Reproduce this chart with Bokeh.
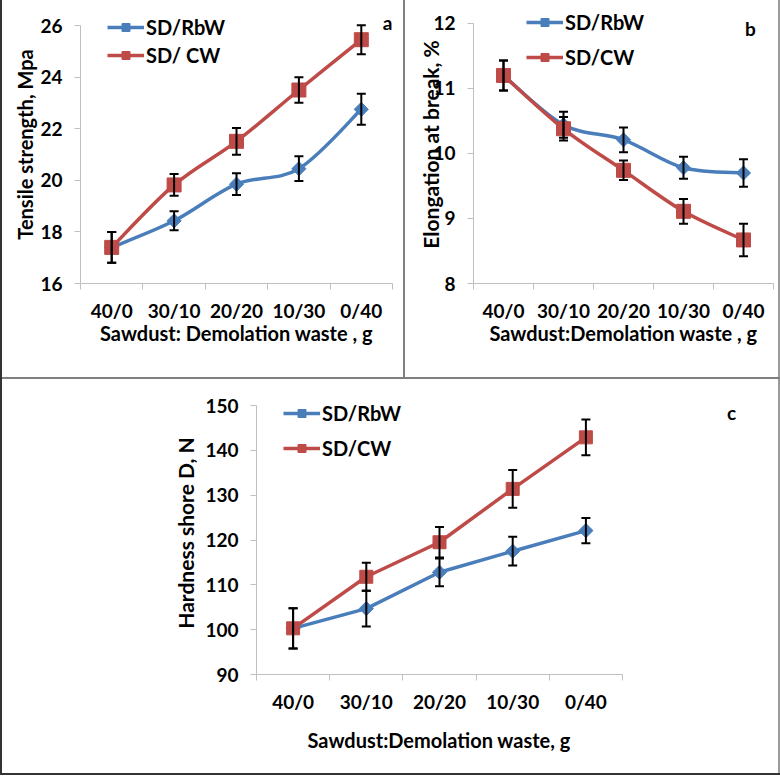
import math
from bokeh.plotting import figure
from bokeh.models import (Range1d, FixedTicker, Whisker, TeeHead, ColumnDataSource,
                          Legend, LegendItem, Label, Div, Title)
from bokeh.layouts import row, column
from bokeh.embed import file_html
from bokeh.resources import INLINE

# ---------------- data ----------------
categories = ["40/0", "30/10", "20/20", "10/30", "0/40"]

a_rbw = [17.4, 18.43, 19.85, 20.45, 22.75]
a_rbw_err = [0.6, 0.37, 0.42, 0.48, 0.6]
a_cw = [17.4, 19.82, 21.51, 23.5, 25.45]
a_cw_err = [0.6, 0.42, 0.52, 0.49, 0.56]

b_rbw = [11.2, 10.44, 10.21, 9.78, 9.70]
b_rbw_err = [0.23, 0.2, 0.19, 0.17, 0.21]
b_cw = [11.2, 10.38, 9.74, 9.11, 8.67]
b_cw_err = [0.23, 0.18, 0.15, 0.19, 0.25]

c_rbw = [100.3, 104.7, 112.8, 117.5, 122.1]
c_rbw_err = [4.5, 4.0, 3.1, 3.2, 2.8]
c_cw = [100.3, 111.8, 119.5, 131.4, 142.9]
c_cw_err = [4.5, 3.1, 3.4, 4.2, 4.0]

a_yticks = [16, 18, 20, 22, 24, 26]
b_yticks = [8, 9, 10, 11, 12]
c_yticks = [90, 100, 110, 120, 130, 140, 150]

BLUE = "#4A7EBB"
RED = "#BE4B48"
FONT = "Lato"
AXIS_GRAY = "#BFBFBF"


def bezier_source(xs, ys):
    n = len(xs)
    d = dict(x0=[], y0=[], x1=[], y1=[], cx0=[], cy0=[], cx1=[], cy1=[])
    for i in range(n - 1):
        ip = i - 1 if i > 0 else i
        inn = i + 2 if i + 2 < n else i + 1
        d["x0"].append(xs[i]); d["y0"].append(ys[i])
        d["x1"].append(xs[i + 1]); d["y1"].append(ys[i + 1])
        d["cx0"].append(xs[i] + (xs[i + 1] - xs[ip]) / 6.0)
        d["cy0"].append(ys[i] + (ys[i + 1] - ys[ip]) / 6.0)
        d["cx1"].append(xs[i + 1] - (xs[inn] - xs[i]) / 6.0)
        d["cy1"].append(ys[i + 1] - (ys[inn] - ys[i]) / 6.0)
    return ColumnDataSource(d)


def panel(width, height, borders, ext, yr, yticks, series, ylabel, xlabel,
          legend_loc, legend_spacing, tag, tag_pos, ylabel_standoff,
          xlabel_standoff, smooth, ylab_size, xlab_size, xtitle_offset=None):
    left, right, top, bottom = borders
    ext_top, ext_right = ext
    n = len(categories)
    frame_w = width - left - right
    frame_h = height - top - bottom
    y_end = yr[1] + ext_top * (yr[1] - yr[0]) / frame_h
    x_end = n + ext_right * n / frame_w
    p = figure(width=width, height=height, x_range=Range1d(0, x_end),
               y_range=Range1d(yr[0], y_end), output_backend="svg",
               toolbar_location=None,
               min_border_left=left, min_border_right=right - ext_right,
               min_border_top=top - ext_top, min_border_bottom=bottom)
    p.outline_line_color = None
    p.xgrid.visible = False
    p.ygrid.visible = False
    p.background_fill_color = "white"
    p.border_fill_color = "white"

    xs = [i + 0.5 for i in range(n)]
    xa = p.xaxis[0]
    xa.bounds = (0, n)
    xa.ticker = FixedTicker(ticks=xs, minor_ticks=list(range(n + 1)))
    xa.major_label_overrides = {x: c for x, c in zip(xs, categories)}
    xa.major_tick_out = 5
    xa.major_tick_in = 0
    xa.major_tick_line_color = None
    xa.minor_tick_out = 6
    xa.minor_tick_in = 0
    xa.minor_tick_line_color = AXIS_GRAY
    xa.axis_line_color = AXIS_GRAY
    xa.major_label_standoff = 9
    xa.major_label_text_font = FONT
    xa.major_label_text_font_style = "bold"
    xa.major_label_text_font_size = "19px"
    xa.major_label_text_color = "black"
    if xtitle_offset is None:
        xa.axis_label = xlabel
        xa.axis_label_text_font = FONT
        xa.axis_label_text_font_style = "bold"
        xa.axis_label_text_font_size = xlab_size
        xa.axis_label_text_color = "black"
        xa.axis_label_standoff = xlabel_standoff
    else:
        t = Title(text=xlabel, align="left", offset=xtitle_offset,
                  standoff=xlabel_standoff, vertical_align="top",
                  text_font=FONT, text_font_style="bold",
                  text_font_size=xlab_size, text_color="black")
        p.add_layout(t, "below")

    ya = p.yaxis[0]
    ya.bounds = yr
    ya.ticker = FixedTicker(ticks=yticks)
    ya.major_tick_out = 6
    ya.major_tick_in = 0
    ya.major_tick_line_color = AXIS_GRAY
    ya.minor_tick_line_color = None
    ya.axis_line_color = AXIS_GRAY
    ya.major_label_standoff = 12
    ya.major_label_text_font = FONT
    ya.major_label_text_font_style = "bold"
    ya.major_label_text_font_size = "19px"
    ya.major_label_text_color = "black"
    ya.axis_label = ylabel
    ya.axis_label_text_font = FONT
    ya.axis_label_text_font_style = "bold"
    ya.axis_label_text_font_size = ylab_size
    ya.axis_label_text_color = "black"
    ya.axis_label_standoff = ylabel_standoff

    items = []
    line_rs = []
    for (name, vals, errs, color, marker, msize, angle) in series:
        if smooth:
            lr = p.bezier(x0="x0", y0="y0", x1="x1", y1="y1", cx0="cx0", cy0="cy0",
                          cx1="cx1", cy1="cy1", source=bezier_source(xs, vals),
                          line_color=color, line_width=3.5)
        else:
            lr = p.line(xs, vals, line_color=color, line_width=3.5)
        line_rs.append((name, lr, vals, errs, color, marker, msize, angle))

    for (name, lr, vals, errs, color, marker, msize, angle) in line_rs:
        src = ColumnDataSource(dict(x=xs, y=vals,
                                    upper=[v + e for v, e in zip(vals, errs)],
                                    lower=[v - e for v, e in zip(vals, errs)]))
        w = Whisker(base="x", upper="upper", lower="lower", source=src,
                    dimension="height", line_color="black", line_width=2, level="glyph",
                    upper_head=TeeHead(size=9, line_width=2, line_color="black"),
                    lower_head=TeeHead(size=9, line_width=2, line_color="black"))
        p.add_layout(w)

    for (name, lr, vals, errs, color, marker, msize, angle) in line_rs:
        sr = p.scatter(xs, vals, marker=marker, size=msize, angle=angle,
                       fill_color=color, line_color=color)
        items.append(LegendItem(label=name, renderers=[lr, sr]))

    leg = Legend(items=items, location=legend_loc, padding=0, margin=0,
                 spacing=legend_spacing, glyph_width=37, glyph_height=20,
                 label_height=20, label_standoff=2,
                 label_text_font=FONT, label_text_font_style="bold",
                 label_text_font_size="20px", label_text_color="black",
                 background_fill_alpha=0, border_line_color=None)
    p.add_layout(leg)

    p.add_layout(Label(x=tag_pos[0], y=tag_pos[1], x_units="screen", y_units="screen",
                       text=tag, text_align="center", text_baseline="middle",
                       text_font=FONT, text_font_style="bold", text_font_size="19px",
                       text_color="black"))
    return p


pa = panel(401, 377, (78, 11, 25, 94), (20, 0), (16, 26), a_yticks,
           [("SD/RbW", a_rbw, a_rbw_err, BLUE, "square", 10, math.pi / 4),
            ("SD/ CW", a_cw, a_cw_err, RED, "square", 14, 0)],
           "Tensile strength, Mpa", "Sawdust: Demolation waste , g",
           (27, 216), 4, "a", (307, 261), 0, -4, True, "20px", "20px")

pb = panel(373, 377, (68, 5, 22, 94), (18, 0), (8, 12), b_yticks,
           [("SD/RbW", b_rbw, b_rbw_err, BLUE, "square", 10, math.pi / 4),
            ("SD/CW", b_cw, b_cw_err, RED, "square", 14, 0)],
           "Elongation at break, %", "Sawdust:Demolation waste , g",
           (53, 214), 11, "b", (277, 255), -13, -4, True, "21px", "20px")

pc = panel(776, 394, (254, 156, 26, 99), (14, 130), (90, 150), c_yticks,
           [("SD/RbW", c_rbw, c_rbw_err, BLUE, "square", 10, math.pi / 4),
            ("SD/CW", c_cw, c_cw_err, RED, "square", 13, 0)],
           "Hardness shore D, N", "Sawdust:Demolation waste, g",
           (27, 214), 11, "c", (475, 262), 4, 24, False, "21px", "20px",
           xtitle_offset=51)


def bar(w, h, color):
    return Div(width=w, height=h, margin=0, styles={"background-color": color})


layout = row(
    bar(2, 775, "#333333"),
    column(
        row(pa, bar(2, 377, "#808080"), pb, bar(2, 377, "#9a9a9a"), spacing=0),
        bar(778, 2, "#808080"),
        row(pc, bar(2, 394, "#9a9a9a"), spacing=0),
        bar(778, 2, "#333333"),
        spacing=0),
    spacing=0)

open("out.html", "w").write(file_html(layout, INLINE))
